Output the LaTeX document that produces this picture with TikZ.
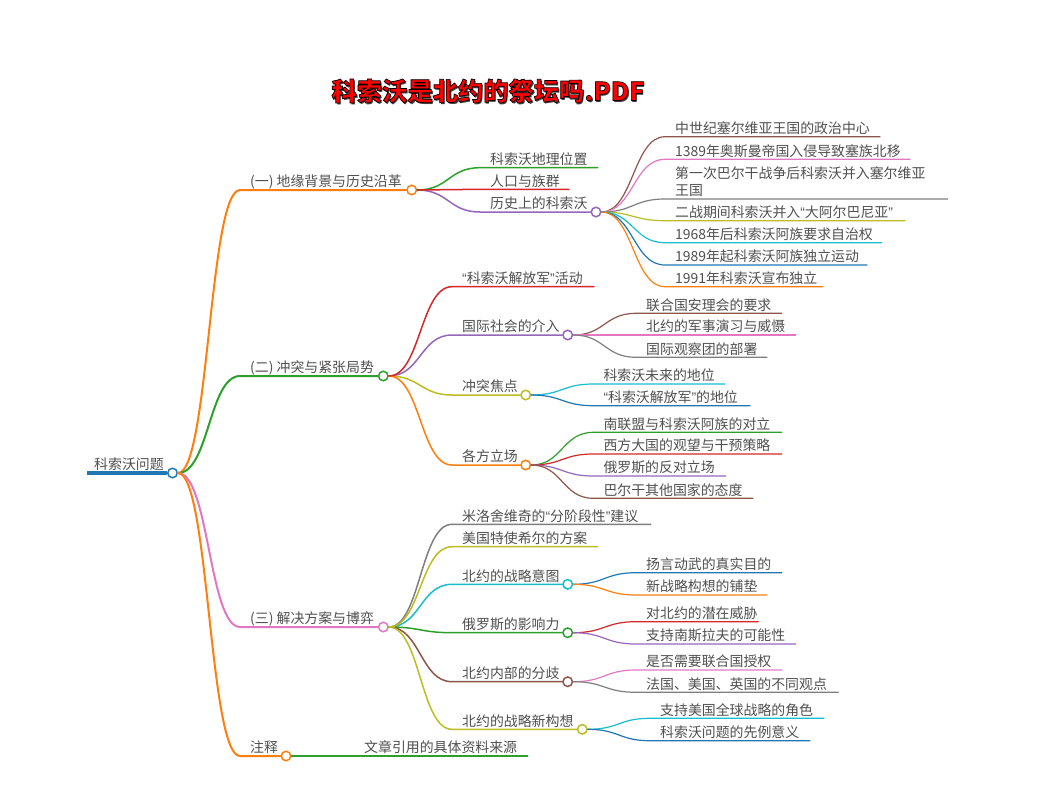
\documentclass[tikz,border=0pt]{standalone}
\usepackage{fontspec}
\setmainfont{Noto Sans CJK SC}
\newfontfamily\quotefont{Liberation Sans}
\usetikzlibrary{calc}

\definecolor{mmblue}{HTML}{1F77B4}
\definecolor{mmorange}{HTML}{FF7F0E}
\definecolor{mmgreen}{HTML}{2CA02C}
\definecolor{mmred}{HTML}{D62728}
\definecolor{mmpurple}{HTML}{9467BD}
\definecolor{mmbrown}{HTML}{8C564B}
\definecolor{mmpink}{HTML}{E377C2}
\definecolor{mmgrey}{HTML}{7F7F7F}
\definecolor{mmolive}{HTML}{BCBD22}
\definecolor{mmcyan}{HTML}{17BECF}
\definecolor{mmtext}{HTML}{505050}

% narrow quotes as in the reference
\newcommand{\oq}{{\quotefont “}}
\newcommand{\cq}{{\quotefont ”}}
% red title letters with a black outline
\newcommand{\outlined}[1]{\special{pdf:literal direct 0 0 0 RG 0.7 w 2 Tr}#1\special{pdf:literal direct 0 Tr}}

\tikzset{
	dot/.style={circle, draw=#1, fill=white, line width=1.5, minimum size=9.5, inner sep=0},
	txt/.style={anchor=south west, inner sep=0, text depth=0pt, align=left, text=mmtext, font=\fontsize{13.9}{17}\selectfont},
	link/.style={line width=#1, line cap=round},
	title/.style={inner sep=0, font=\bfseries\fontsize{25.3}{30}\selectfont}
}

\begin{document}
\begin{tikzpicture}[x=1pt, y=-1pt]
	\fill[white] (0,0) rectangle (1042,793);
	\useasboundingbox (0,0) rectangle (1042,793);
	
	% title
	\node[title, text=black!75] (title-s) at (489.6,92.6) {科索沃是北约的祭坛吗.PDF};
	\node[title, text=red] (title) at (488,91) {\outlined{科索沃是北约的祭坛吗.PDF}};
	
	% root
	\coordinate (r-s) at (87,473);
	\node[dot=mmblue] (r) at (172.5,473) {};
	\draw[mmblue, line width=4] (r-s) -- (r.west);
	\node[txt] (r-t) at (94,470) {科索沃问题};
	
	% nodes with children
	\foreach \n/\p/\x/\y/\xe/\col/\w/\txt in {
		a/r/250/190/411.7/mmorange/2/{(一) 地缘背景与历史沿革},
		b/r/250/376/383.3/mmgreen/2/{(二) 冲突与紧张局势},
		c/r/250/627/383.3/mmpink/2/{(三) 解决方案与博弈},
		d/r/250/756/286/mmorange/2/{注释},
		a3/a/490/212/596/mmpurple/1.5/{历史上的科索沃},
		b2/b/462/335/567.7/mmpurple/1.5/{国际社会的介入},
		b3/b/462/395/525.7/mmolive/1.5/{冲突焦点},
		b4/b/462/465/525.7/mmorange/1.5/{各方立场},
		c3/c/462/584.3/567.7/mmcyan/1.5/{北约的战略意图},
		c4/c/462/632.7/567.7/mmgreen/1.5/{俄罗斯的影响力},
		c5/c/462/681.7/567.7/mmbrown/1.5/{北约内部的分歧},
		c6/c/462/729.3/582.3/mmolive/1.5/{北约的战略新构想}}
	{
		\coordinate (\n-s) at ({\x-10},\y);
		\node[dot=\col] (\n) at (\xe,\y) {};
		\coordinate (\n-m) at ($(\p.east)!0.5!(\n-s)$);
		\draw[\col, link=\w] (\p.east) .. controls (\n-m |- \p.east) and (\n-m |- \n-s) .. (\n-s) -- (\n.west);
		\node[txt] (\n-t) at (\x,{\y-3}) {\txt};
	}
	
	% leaves
	\foreach \n/\p/\x/\y/\xe/\col/\w/\txt in {
		a1/a/490/167.7/597.7/mmgreen/1.5/{科索沃地理位置},
		a2/a/490/189.3/569/mmred/1.5/{人口与族群},
		a3-1/a3/675/136.7/880/mmbrown/1.2/{中世纪塞尔维亚王国的政治中心},
		a3-2/a3/675/159.3/910/mmpink/1.2/{1389年奥斯曼帝国入侵导致塞族北移},
		a3-3/a3/675/199/947.7/mmgrey/1.2/{第一次巴尔干战争后科索沃并入塞尔维亚\\王国},
		a3-4/a3/675/220.7/905/mmolive/1.2/{二战期间科索沃并入\oq 大阿尔巴尼亚\cq},
		a3-5/a3/675/242.7/881.7/mmcyan/1.2/{1968年后科索沃阿族要求自治权},
		a3-6/a3/675/265/867/mmblue/1.2/{1989年起科索沃阿族独立运动},
		a3-7/a3/675/286.7/823/mmorange/1.2/{1991年科索沃宣布独立},
		b1/b/462/286.7/594/mmred/1.5/{\oq 科索沃解放军\cq 活动},
		b2-1/b2/646/313.3/781.7/mmbrown/1.2/{联合国安理会的要求},
		b2-2/b2/646/335/795.7/mmpink/1.2/{北约的军事演习与威慑},
		b2-3/b2/646/357.3/767/mmgrey/1.2/{国际观察团的部署},
		b3-1/b3/603.3/384/725/mmcyan/1.2/{科索沃未来的地位},
		b3-2/b3/603.3/405.7/750/mmblue/1.2/{\oq 科索沃解放军\cq 的地位},
		b4-1/b4/603.3/432.3/781.7/mmgreen/1.2/{南联盟与科索沃阿族的对立},
		b4-2/b4/603.3/454/781.7/mmred/1.2/{西方大国的观望与干预策略},
		b4-3/b4/603.3/476/725.7/mmpurple/1.2/{俄罗斯的反对立场},
		b4-4/b4/603.3/498.3/753/mmbrown/1.2/{巴尔干其他国家的态度},
		c1/c/462/524.3/650.7/mmgrey/1.5/{米洛舍维奇的\oq 分阶段性\cq 建议},
		c2/c/462/546.7/597.7/mmolive/1.5/{美国特使希尔的方案},
		c3-1/c3/646/572.7/781.7/mmblue/1.2/{扬言动武的真实目的},
		c3-2/c3/646/595/767/mmorange/1.2/{新战略构想的铺垫},
		c4-1/c4/646/621.7/758.3/mmred/1.2/{对北约的潜在威胁},
		c4-2/c4/646/644/795.7/mmpurple/1.2/{支持南斯拉夫的可能性},
		c5-1/c5/646/670/781.7/mmpink/1.2/{是否需要联合国授权},
		c5-2/c5/646/692.3/838.3/mmgrey/1.2/{法国、美国、英国的不同观点},
		c6-1/c6/660/718.3/824/mmcyan/1.2/{支持美国全球战略的角色},
		c6-2/c6/660/740.7/810/mmblue/1.2/{科索沃问题的先例意义},
		d1/d/364/756/527.7/mmgreen/1.5/{文章引用的具体资料来源}}
	{
		\coordinate (\n-s) at ({\x-10},\y);
		\coordinate (\n) at (\xe,\y);
		\coordinate (\n-m) at ($(\p.east)!0.5!(\n-s)$);
		\draw[\col, link=\w] (\p.east) .. controls (\n-m |- \p.east) and (\n-m |- \n-s) .. (\n-s) -- (\n);
		\node[txt] (\n-t) at (\x,{\y-3}) {\txt};
	}
	
\end{tikzpicture}
\end{document}
